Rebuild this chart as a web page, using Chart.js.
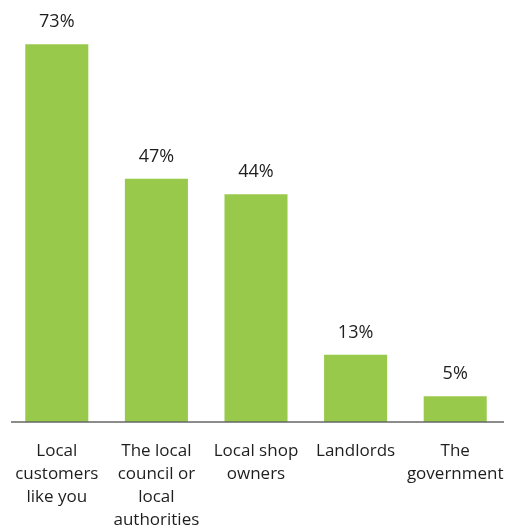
<!DOCTYPE html>
<html>
<head>
<meta charset="utf-8">
<script src="https://cdn.jsdelivr.net/npm/chart.js@4"></script>
<style>
  html, body { margin: 0; padding: 0; background: #fff; }
  #wrap { width: 506px; height: 532px; }
</style>
</head>
<body>
<div id="wrap"><canvas id="chart"></canvas></div>
<script>
const categories = [
    ["Local", "customers", "like you"],
    ["The local", "council or", "local", "authorities"],
    ["Local shop", "owners"],
    ["Landlords"],
    ["The", "government"]
];
const values = [73, 47, 44, 13, 5];

const barColor = "#98c94b";
const textColor = "#1e1e1e";
const fontFamily = "'Open Sans', sans-serif";

// value labels above each bar
const valueLabels = {
    id: "valueLabels",
    afterDatasetsDraw(chart) {
        const ctx = chart.ctx;
        const meta = chart.getDatasetMeta(0);
        ctx.save();
        ctx.font = "18px " + fontFamily;
        ctx.fillStyle = textColor;
        ctx.textAlign = "center";
        ctx.textBaseline = "bottom";
        meta.data.forEach((bar, i) => {
            ctx.fillText(values[i] + "%", bar.x, bar.y - 13);
        });
        ctx.restore();
    }
};

// baseline under the bars
const baseLine = {
    id: "baseLine",
    afterDatasetsDraw(chart) {
        const ctx = chart.ctx;
        const y = chart.scales.y.getPixelForValue(0);
        ctx.save();
        ctx.strokeStyle = "#666666";
        ctx.lineWidth = 1.5;
        ctx.beginPath();
        ctx.moveTo(11, y);
        ctx.lineTo(504, y);
        ctx.stroke();
        ctx.restore();
    }
};

new Chart(document.getElementById("chart"), {
    type: "bar",
    data: {
        labels: categories,
        datasets: [{
            data: values,
            backgroundColor: barColor,
            barPercentage: 0.633,
            categoryPercentage: 1
        }]
    },
    options: {
        responsive: true,
        maintainAspectRatio: false,
        animation: false,
        layout: { padding: { top: 8, left: 7, right: 1, bottom: 0 } },
        plugins: {
            legend: { display: false },
            tooltip: { enabled: false }
        },
        scales: {
            x: {
                grid: { display: false, drawTicks: false },
                border: { display: false },
                afterFit(scale) {
                    scale.height = 110;
                    scale.paddingLeft = 0;
                    scale.paddingRight = 0;
                },
                ticks: {
                    color: textColor,
                    padding: 18,
                    maxRotation: 0,
                    autoSkip: false,
                    font: { family: fontFamily, size: 17, lineHeight: 1.35 }
                }
            },
            y: {
                display: false,
                min: 0,
                max: 80
            }
        }
    },
    plugins: [valueLabels, baseLine]
});
</script>
</body>
</html>
